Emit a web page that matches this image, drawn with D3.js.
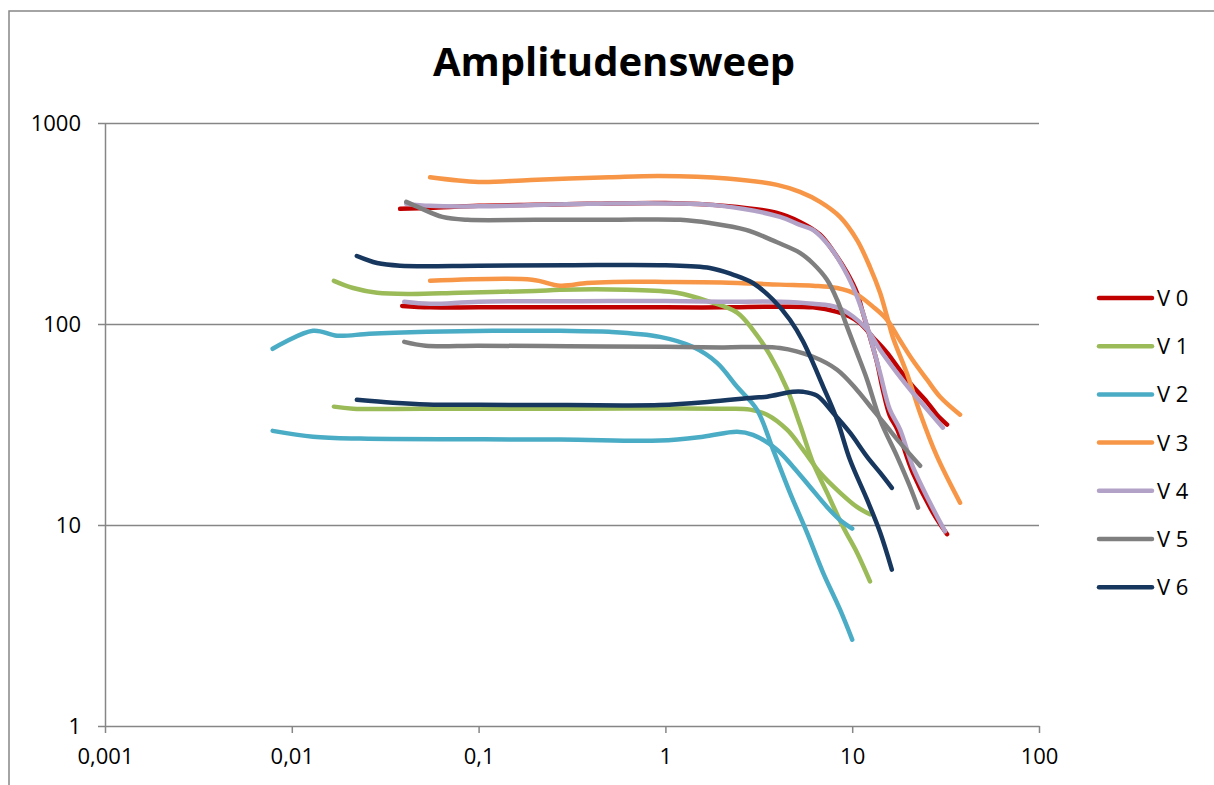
<!DOCTYPE html>
<html>
<head>
<meta charset="utf-8">
<script src="https://cdn.jsdelivr.net/npm/d3@7"></script>
<style>
  body { margin: 0; background: #fff; }
  svg text { font-family: "Open Sans", "Liberation Sans", sans-serif; fill: #000; }
  .axis path, .axis line { stroke: #868686; stroke-width: 1.5; }
  .grid line { stroke: #868686; stroke-width: 1.5; }
  .grid path { display: none; }
</style>
</head>
<body>
<script>
// legend names and colours
var seriesNames = ["V 0", "V 1", "V 2", "V 3", "V 4", "V 5", "V 6"];
var seriesColors = ["#C00000", "#9BBB59", "#4BACC6", "#F79646", "#B3A2C7", "#7F7F7F", "#17375E"];

var xTicks = [0.001, 0.01, 0.1, 1, 10, 100];
var xTickLabels = ["0,001", "0,01", "0,1", "1", "10", "100"];
var yTicks = [1, 10, 100, 1000];
var yTickLabels = ["1", "10", "100", "1000"];

// [strain, modulus] - upper (G') and lower (G'') curve of each sample
var v0Upper = [[0.038,374],[0.055,378],[0.1,387],[0.2,392],[0.38,396],[1,400],[2.1,387],[3.96,357],[5.25,322],[6.73,278],[8.3,216],[9.38,180],[10.6,143],[11.4,114],[12.45,86],[13.6,64],[14.6,47],[15.9,35],[17.4,30],[21.1,18.2],[27.1,11.5],[32.2,9.0]];
var v0Lower = [[0.039,123],[0.055,121],[0.1,121],[0.3,121],[1,121],[2,121],[4.11,122],[6.17,121],[8.3,115],[9.7,109],[11,101],[12.9,86],[15.35,72],[18,59],[21.1,49],[25.1,41],[28.4,35.4],[32.2,31.6]];

var v1Upper = [[0.0168,164],[0.0213,151],[0.0286,143],[0.043,141],[0.079,143],[0.2,146],[0.273,148],[0.62,148],[1.15,143],[1.73,129],[2.42,114],[2.94,93.6],[3.63,70],[4.48,47.5],[5.25,31.6],[6.17,20.4],[7.33,14.5],[8.93,9.8],[10.6,7.3],[12.45,5.24]];
var v1Lower = [[0.0168,38.8],[0.0213,37.9],[0.05,37.9],[0.3,37.9],[2.14,37.9],[2.84,37.5],[3.5,35.4],[4.48,29.8],[5.45,23.7],[6.73,18.2],[8.6,14.5],[10.6,12.3],[12.45,11.3]];

var v2Upper = [[0.0079,75.3],[0.013,92.5],[0.0175,87.4],[0.026,89.4],[0.053,91.4],[0.119,92.5],[0.273,92.5],[0.5,91.4],[0.935,86.3],[1.4,77],[1.89,64.1],[2.42,48.7],[3.09,37.5],[3.77,23.7],[4.64,14.5],[5.73,9.17],[6.98,5.8],[8.6,3.8],[10,2.69]];
var v2Lower = [[0.0079,29.4],[0.013,27.5],[0.0232,26.9],[0.273,26.6],[0.935,26.3],[1.59,27.5],[2.42,29.1],[2.94,28.1],[3.96,23.7],[4.82,19.5],[5.94,15.5],[7.33,12.3],[8.6,10.6],[10,9.6]];

var v3Upper = [[0.055,537],[0.1,509],[0.19,521],[0.5,537],[0.93,545],[2.14,530],[3.96,492],[5.25,454],[6.73,405],[8.6,341],[10.6,262],[12.45,192],[14.1,143],[15.35,109],[16.5,86],[19.6,57],[23.1,36],[28.4,22],[37.8,12.9]];
var v3Lower = [[0.055,164],[0.193,166],[0.273,155],[0.38,160],[0.525,162],[1,162],[2,161],[4.11,157],[6.17,155],[8.3,151],[10.6,140],[12.9,122],[15.35,105],[18,83],[21.1,66],[25.1,53],[29.5,43.5],[37.8,35.4]];

var v4Upper = [[0.041,396],[0.055,387],[0.1,385],[0.38,396],[1,398],[2,387],[4.11,341],[5.25,311],[6.17,294],[7.6,242],[8.93,192],[10.1,153],[11.4,114],[12.9,77],[14.1,57],[15.9,37.5],[18,30],[21.1,19.5],[26.1,12.9],[31.4,9.3]];
var v4Lower = [[0.04,129],[0.055,126],[0.1,129],[0.5,130],[1,130],[2,129],[4.11,129],[6.17,126],[8.3,121],[10.1,109],[12,94],[14.1,74.5],[17.4,57],[21.1,45.5],[26.1,36.2],[30.6,30.5]];

var v5Upper = [[0.041,405],[0.0485,378],[0.064,341],[0.087,330],[0.2,330],[0.5,330],[1.2,330],[1.73,318],[2.7,294],[3.96,255],[5.25,226],[6.17,200],[7.33,166],[8.3,132],[9.38,97],[10.6,72],[12,53],[14.1,33.4],[17.4,21.9],[20.4,15.5],[22.5,12.2]];
var v5Lower = [[0.04,81.5],[0.052,78],[0.1,78],[0.3,77.5],[1,77],[2,76.5],[4.11,76],[6.17,68.7],[8.3,59.2],[10.6,47],[12.9,37.5],[15.35,30.8],[18,25.7],[23.1,19.7]];

var v6Upper = [[0.0223,218],[0.0286,201],[0.038,195],[0.1,195],[0.3,196],[1,196],[1.73,190],[2.3,176],[2.94,160],[3.77,132],[4.64,105],[5.45,82],[6.98,49],[8.3,33.4],[9.73,21.1],[12,13.4],[14.1,9.2],[16.3,6.0]];
var v6Lower = [[0.0223,42],[0.0348,40.6],[0.053,39.8],[0.1,39.6],[0.3,39.5],[0.935,39.5],[1.73,41],[2.94,43],[3.5,43.5],[4.82,46],[5.45,46],[6.48,44],[7.89,36.2],[9.73,28.8],[12,21.9],[14.1,18.2],[16.3,15.3]];

var curves = [
  [v0Upper, v0Lower], [v1Upper, v1Lower], [v2Upper, v2Lower], [v3Upper, v3Lower],
  [v4Upper, v4Lower], [v5Upper, v5Lower], [v6Upper, v6Lower]
];

var W = 1214, H = 785;
var plot = {left: 105, right: 1039, top: 123, bottom: 726};

var svg = d3.select("body").append("svg")
    .attr("width", W)
    .attr("height", H);

// chart frame
svg.append("rect")
    .attr("x", 9).attr("y", 11)
    .attr("width", W + 20).attr("height", H + 20)
    .attr("fill", "#fff")
    .attr("stroke", "#868686")
    .attr("stroke-width", 1.5);

var x = d3.scaleLog().domain([0.001, 100]).range([plot.left, plot.right]);
var y = d3.scaleLog().domain([1, 1000]).range([plot.bottom, plot.top]);

svg.append("text")
    .attr("x", 614).attr("y", 76)
    .attr("text-anchor", "middle")
    .style("font-size", "40px")
    .style("font-weight", "bold")
    .text("Amplitudensweep");

// horizontal gridlines
svg.append("g")
    .attr("class", "grid")
    .attr("transform", "translate(" + plot.left + ",0)")
    .call(d3.axisLeft(y).tickValues(yTicks.slice(1)).tickSize(-(plot.right - plot.left)).tickFormat(""));

var yAxis = svg.append("g")
    .attr("class", "axis")
    .attr("transform", "translate(" + plot.left + ",0)")
    .call(d3.axisLeft(y).tickValues(yTicks).tickSize(7).tickSizeOuter(0).tickPadding(17)
      .tickFormat(function(d, i) { return yTickLabels[i]; }));

var xAxis = svg.append("g")
    .attr("class", "axis")
    .attr("transform", "translate(0," + plot.bottom + ")")
    .call(d3.axisBottom(x).tickValues(xTicks).tickSize(7).tickSizeOuter(0).tickPadding(15)
      .tickFormat(function(d, i) { return xTickLabels[i]; }));

yAxis.selectAll("text").style("font-size", "22px");
xAxis.selectAll("text").style("font-size", "22px");

var line = d3.line()
    .x(function(d) { return x(d[0]); })
    .y(function(d) { return y(d[1]); })
    .curve(d3.curveCatmullRom.alpha(0.5));

var g = svg.append("g");
curves.forEach(function(pair, i) {
  pair.forEach(function(data) {
    g.append("path")
      .attr("d", line(data))
      .attr("fill", "none")
      .attr("stroke", seriesColors[i])
      .attr("stroke-width", 4.5)
      .attr("stroke-linecap", "round")
      .attr("stroke-linejoin", "round");
  });
});

// legend
var legend = svg.append("g");
seriesNames.forEach(function(name, i) {
  var ly = 298 + i * 48.2;
  legend.append("line")
    .attr("x1", 1099).attr("x2", 1152)
    .attr("y1", ly).attr("y2", ly)
    .attr("stroke", seriesColors[i])
    .attr("stroke-width", 4.5)
    .attr("stroke-linecap", "round");
  legend.append("text")
    .attr("x", 1157).attr("y", ly)
    .attr("dy", "0.36em")
    .style("font-size", "22px")
    .text(name);
});
</script>
</body>
</html>
